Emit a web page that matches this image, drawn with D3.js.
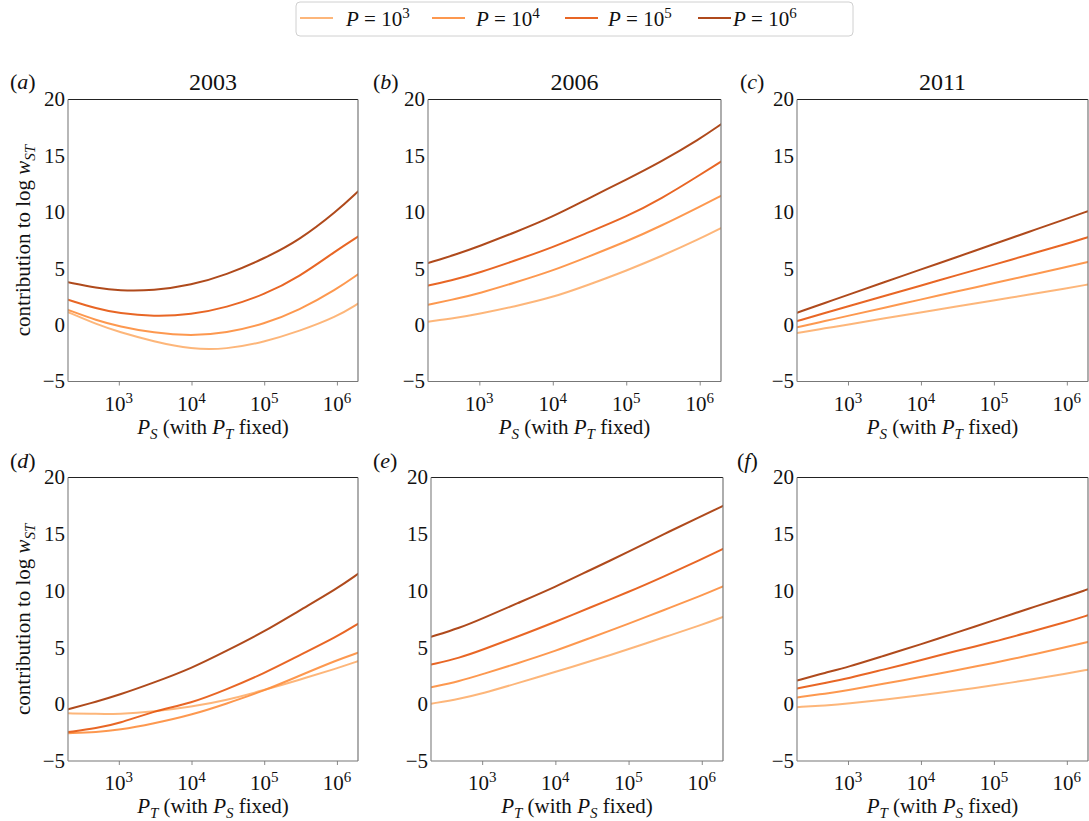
<!DOCTYPE html>
<html>
<head>
<meta charset="utf-8">
<script src="https://cdn.jsdelivr.net/npm/d3@7"></script>
<style>
  html, body { margin: 0; padding: 0; background: #fff; }
</style>
</head>
<body>
<script>
// ---------------- data ----------------
const years = ["2003", "2006", "2011"];
const panelLetters = ["a", "b", "c", "d", "e", "f"];
const seriesExponents = ["3", "4", "5", "6"];          // P = 10^3 ... 10^6
const seriesColors = ["#fdae6b", "#fd8d3c", "#e6550d", "#a63603"];
const xTickValues = [1e3, 1e4, 1e5, 1e6];
const xTickExponents = ["3", "4", "5", "6"];
const yTickValues = [-5, 0, 5, 10, 15, 20];
const xDomain = [200, 1.95e6];
const yDomain = [-5, 20];
// sample positions (population) along the x axis
const samplePoints = [200, 500, 1000, 3000, 10000, 30000, 100000, 300000, 1000000, 1950000];

// rows: P=10^3, 10^4, 10^5, 10^6
const panelA = [
  [1.15, 0.05, -0.6, -1.45, -2.15, -2.15, -1.5, -0.55, 0.75, 1.9],
  [1.35, 0.4, -0.1, -0.7, -0.95, -0.7, 0.1, 1.3, 3.2, 4.5],
  [2.25, 1.45, 1.05, 0.76, 0.93, 1.55, 2.7, 4.25, 6.65, 7.85],
  [3.8, 3.3, 3.05, 3.05, 3.55, 4.45, 5.9, 7.5, 10.1, 11.85]
];
const panelB = [
  [0.3, 0.65, 1.0, 1.65, 2.46, 3.55, 4.82, 6.1, 7.65, 8.6],
  [1.8, 2.35, 2.82, 3.75, 4.82, 6.05, 7.4, 8.8, 10.5, 11.45],
  [3.5, 4.1, 4.65, 5.7, 6.9, 8.2, 9.6, 11.2, 13.3, 14.5],
  [5.5, 6.3, 7.0, 8.2, 9.6, 11.2, 12.9, 14.5, 16.5, 17.8]
];
const panelC = [
  [-0.7, -0.27, 0.05, 0.57, 1.13, 1.64, 2.18, 2.7, 3.26, 3.6],
  [-0.2, 0.38, 0.82, 1.51, 2.27, 2.96, 3.71, 4.41, 5.16, 5.6],
  [0.35, 1.1, 1.65, 2.55, 3.5, 4.4, 5.35, 6.25, 7.2, 7.8],
  [1.1, 2.0, 2.68, 3.76, 4.93, 6.0, 7.18, 8.26, 9.43, 10.1]
];
const panelD = [
  [-0.8, -0.85, -0.86, -0.65, -0.21, 0.35, 1.26, 2.15, 3.17, 3.8],
  [-2.55, -2.45, -2.27, -1.7, -0.94, 0.05, 1.2, 2.5, 3.9, 4.55],
  [-2.45, -2.1, -1.7, -0.6, 0.1, 1.3, 2.73, 4.3, 5.96, 7.1],
  [-0.45, 0.25, 0.82, 1.9, 3.17, 4.7, 6.4, 8.25, 10.2, 11.5]
];
const panelE = [
  [0.05, 0.5, 0.94, 1.85, 2.85, 3.8, 4.85, 5.9, 7.0, 7.7],
  [1.5, 2.05, 2.65, 3.6, 4.7, 5.85, 7.1, 8.3, 9.6, 10.4],
  [3.5, 4.1, 4.8, 5.95, 7.26, 8.55, 9.9, 11.25, 12.8, 13.7],
  [5.95, 6.75, 7.56, 8.9, 10.35, 11.85, 13.44, 15.0, 16.6, 17.5]
];
const panelF = [
  [-0.25, -0.1, 0.06, 0.4, 0.8, 1.2, 1.68, 2.15, 2.71, 3.05],
  [0.6, 0.95, 1.24, 1.8, 2.41, 3.0, 3.65, 4.3, 5.06, 5.5],
  [1.4, 1.9, 2.27, 3.05, 3.88, 4.7, 5.5, 6.35, 7.26, 7.85],
  [2.1, 2.8, 3.29, 4.25, 5.29, 6.3, 7.41, 8.45, 9.5, 10.15]
];
const panelData = [panelA, panelB, panelC, panelD, panelE, panelF];

// ---------------- layout ----------------
const W = 1089, H = 821;
const FONT = "Liberation Serif";
const boxes = [
  {x0: 68,  x1: 358,  y0: 99.5,  y1: 381.5},
  {x0: 428, x1: 721,  y0: 99.5,  y1: 381.5},
  {x0: 797, x1: 1088, y0: 99.5,  y1: 381.5},
  {x0: 68,  x1: 358,  y0: 477.5, y1: 761},
  {x0: 431, x1: 723,  y0: 477.5, y1: 761},
  {x0: 797, x1: 1088, y0: 477.5, y1: 761}
];
const letterX = [10, 373, 740, 10, 373, 737];

const svg = d3.select("body").append("svg")
  .attr("width", W).attr("height", H);

// rich text helper: parts = [{t, it, sub, sup}]
function rich(textSel, parts, small, subOff, supOff) {
  let shift = 0;
  textSel.attr("font-family", FONT).attr("fill", "#111");
  parts.forEach(p => {
    const ts = textSel.append("tspan").text(p.t);
    if (p.it) ts.attr("font-style", "italic");
    const target = p.sub ? subOff : (p.sup ? -supOff : 0);
    if (target !== shift) { ts.attr("dy", target - shift); shift = target; }
    if (p.sub || p.sup) ts.attr("font-size", small);
  });
}

const defs = svg.append("defs");

panelData.forEach((series, i) => {
  const b = boxes[i];
  const row = i < 3 ? 0 : 1;
  const col = i % 3;
  const x = d3.scaleLog().domain(xDomain).range([b.x0, b.x1]);
  const y = d3.scaleLinear().domain(yDomain).range([b.y1, b.y0]);
  const g = svg.append("g");

  defs.append("clipPath").attr("id", "clip" + i)
    .append("rect").attr("x", b.x0).attr("y", b.y0)
    .attr("width", b.x1 - b.x0).attr("height", b.y1 - b.y0);

  // x axis ticks (outward)
  const xAxis = d3.axisBottom(x).tickValues(xTickValues).tickSize(4).tickFormat("");
  const xa = g.append("g").attr("transform", `translate(0,${b.y1})`).call(xAxis);
  xa.select(".domain").remove();
  xa.selectAll(".tick line").attr("stroke", "#888").attr("stroke-width", 1);

  // x tick labels with superscripts
  xTickValues.forEach((v, k) => {
    const t = g.append("text").attr("x", x(v)).attr("y", b.y1 + 29)
      .attr("text-anchor", "middle").attr("font-size", 21);
    rich(t, [{t: "10"}, {t: xTickExponents[k], sup: true}], 15, 0, 8);
  });

  // y tick labels
  yTickValues.forEach(v => {
    g.append("text").attr("x", b.x0 - 3).attr("y", y(v)).attr("dy", "0.33em")
      .attr("text-anchor", "end").attr("font-size", 21)
      .attr("font-family", FONT).attr("fill", "#111")
      .text(v < 0 ? "\u2212" + Math.abs(v) : String(v));
  });

  // lines
  const line = d3.line()
    .x((d, k) => x(samplePoints[k]))
    .y(d => y(d))
    .curve(d3.curveBasis);
  const lg = g.append("g").attr("clip-path", `url(#clip${i})`);
  series.forEach((vals, s) => {
    lg.append("path").attr("d", line(vals))
      .attr("fill", "none").attr("stroke", seriesColors[s])
      .attr("stroke-width", 2).attr("stroke-opacity", 0.9)
      .attr("stroke-linecap", "round");
  });

  // spines
  g.append("line").attr("x1", b.x0).attr("x2", b.x1).attr("y1", b.y0).attr("y2", b.y0)
    .attr("stroke", "#222").attr("stroke-width", 1.2);
  g.append("line").attr("x1", b.x0).attr("x2", b.x1).attr("y1", b.y1).attr("y2", b.y1)
    .attr("stroke", "#777").attr("stroke-width", 1.2);
  g.append("line").attr("x1", b.x0).attr("x2", b.x0).attr("y1", b.y0).attr("y2", b.y1)
    .attr("stroke", "#888").attr("stroke-width", 1.2);
  g.append("line").attr("x1", b.x1).attr("x2", b.x1).attr("y1", b.y0).attr("y2", b.y1)
    .attr("stroke", "#777").attr("stroke-width", 1.2);

  // titles (top row)
  if (row === 0) {
    g.append("text").attr("x", (b.x0 + b.x1) / 2).attr("y", 90)
      .attr("text-anchor", "middle").attr("font-size", 24)
      .attr("font-family", FONT).attr("fill", "#111").text(years[col]);
  }

  // panel letters
  const lt = g.append("text").attr("x", letterX[i]).attr("y", row === 0 ? 89 : 468)
    .attr("font-size", 22);
  rich(lt, [{t: "("}, {t: panelLetters[i], it: true}, {t: ")"}], 22, 0, 0);

  // x label
  const xl = g.append("text").attr("x", (b.x0 + b.x1) / 2).attr("y", b.y1 + 52)
    .attr("text-anchor", "middle").attr("font-size", 21);
  const a = row === 0 ? "S" : "T", c = row === 0 ? "T" : "S";
  rich(xl, [{t: "P", it: true}, {t: a, it: true, sub: true}, {t: " (with "},
            {t: "P", it: true}, {t: c, it: true, sub: true}, {t: " fixed)"}], 15, 5, 0);

  // y label (left column)
  if (col === 0) {
    const cy = (b.y0 + b.y1) / 2;
    const yl = g.append("text").attr("transform", `translate(30,${cy}) rotate(-90)`)
      .attr("text-anchor", "middle").attr("font-size", 21);
    rich(yl, [{t: "contribution to log "}, {t: "w", it: true}, {t: "ST", it: true, sub: true}], 15, 5, 0);
  }
});

// ---------------- legend ----------------
const leg = svg.append("g");
leg.append("rect").attr("x", 296).attr("y", 2).attr("width", 557).attr("height", 34)
  .attr("rx", 4).attr("fill", "#fff").attr("stroke", "#d0d0d0").attr("stroke-width", 1);
const legLineX = [300, 432, 565, 698];
const legTextX = [346, 476, 608, 733];
seriesExponents.forEach((e, s) => {
  leg.append("line").attr("x1", legLineX[s]).attr("x2", legLineX[s] + 33)
    .attr("y1", 18).attr("y2", 18).attr("stroke", seriesColors[s])
    .attr("stroke-width", 2).attr("stroke-opacity", 0.9);
  const t = leg.append("text").attr("x", legTextX[s]).attr("y", 26).attr("font-size", 21);
  rich(t, [{t: "P", it: true}, {t: " = 10"}, {t: e, sup: true}], 15, 0, 8);
});
</script>
</body>
</html>
